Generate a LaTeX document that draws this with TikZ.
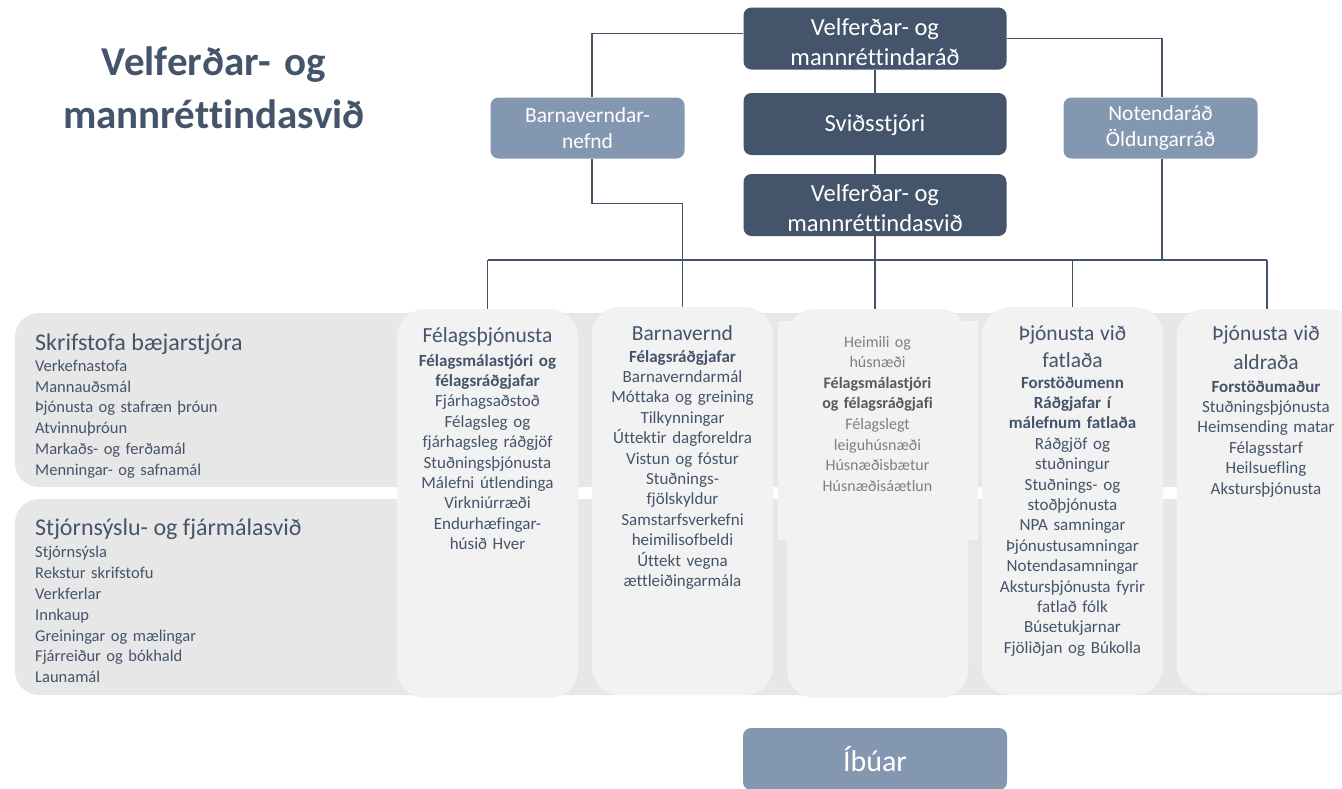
\documentclass[tikz,border=0pt]{standalone}
\usepackage{fontspec}
\setmainfont{Carlito}[Ligatures=CommonOff]
\definecolor{dk}{RGB}{68,84,106}
\definecolor{lt}{RGB}{132,151,176}
\definecolor{pan}{RGB}{231,231,231}
\definecolor{colbg}{RGB}{242,242,242}
\definecolor{gtx}{RGB}{127,127,127}
\definecolor{gbd}{RGB}{89,89,89}
\newcommand\colhd[3]{{\fontsize{21.5}{#2}\selectfont #1\par}\vspace{#3pt}}
\newcommand\panhd[2]{{\fontsize{24}{28}\selectfont #1\par}\vspace{#2pt}}
\tikzset{
  darkbox/.style={fill=dk, rounded corners=8, minimum width=263, minimum height=62, inner sep=0},
  litebox/.style={fill=lt, rounded corners=8, minimum width=194, minimum height=61, inner sep=0},
  dtext/.style={text=white, align=center, inner sep=0, font=\fontsize{24.5}{30}\selectfont},
  ltext/.style={text=white, align=center, inner sep=0, font=\fontsize{21.5}{26}\selectfont},
  colbox/.style={fill=colbg, rounded corners=28, minimum width=181, inner sep=0},
  coltext/.style={anchor=base, text width=180, align=center, text=dk, inner sep=0, font=\fontsize{17}{20.4}\selectfont},
  pantext/.style={anchor=base west, text width=340, align=left, text=dk, inner sep=0, font=\fontsize{16.5}{20.8}\selectfont},
  conn/.style={draw=dk, line width=1.2},
}
\begin{document}
\begin{tikzpicture}[x=1pt,y=-1pt]
\useasboundingbox (0,0) rectangle (1342,788);
% grey bands
\begin{scope}
\clip (0,0) rectangle (1342,788);
\fill[pan, rounded corners=24] (15,313) rectangle (1390,487);
\fill[pan, rounded corners=24] (15,499) rectangle (1390,695);
\end{scope}
\fill[colbg] (778,321) rectangle (978,540);
% columns
\node[colbox, minimum height=389] (c1) at (487.5,503.5) {};
\node[colbox, minimum height=388] (c2) at (682.5,501) {};
\node[colbox, minimum height=389] (c3) at (877.5,503.5) {};
\node[colbox, minimum height=388] (c4) at (1072.5,501) {};
\node[colbox, minimum height=384] (c5) at (1267,501) {};
% title
\node[anchor=base, text width=420, align=center, inner sep=0, text=dk, font=\bfseries\fontsize{41}{53}\selectfont] (title) at (214,75) {Velferðar- og\\mannréttindasvið};
% top boxes
\node[darkbox, label={[dtext, yshift=-3.5]center:{Velferðar- og\\mannréttindaráð}}] (vmr) at (875,38.5) {};
\node[darkbox, label={[dtext, yshift=-1.5]center:{Sviðsstjóri}}] (svd) at (875,124) {};
\node[darkbox, label={[dtext, yshift=-3]center:{Velferðar- og\\mannréttindasvið}}] (vms) at (875,205) {};
\node[litebox, label={[ltext]center:{Barnaverndar-\\nefnd}}] (bvn) at (587.5,128) {};
\node[litebox, label={[ltext]center:{Notendaráð\\Öldungarráð}}] (nod) at (1160.5,128) {};
\node[litebox, minimum width=264, minimum height=62, label={[ltext, font=\fontsize{30}{36}\selectfont]center:{Íbúar}}] (ibu) at (875,759) {};
% connectors
\coordinate (busL) at (487.5,260);
\coordinate (busR) at (1267,260);
\draw[conn] (vmr.west) ++(0,-5) -| ([xshift=4.5]bvn.north);
\draw[conn] (vmr.east) -| ([xshift=1.5]nod.north);
\draw[conn] (vmr.south) -- (svd.north);
\draw[conn] (svd.south) -- (vms.north);
\draw[conn] (vms.south) -- (vms.south |- c3.north);
\draw[conn] ([xshift=4.5]bvn.south) -- ++(0,45) -| (c2.north);
\draw[conn] ([xshift=1.5]nod.south) -- ([xshift=1.5]nod.south |- busL);
\draw[conn] (busL) -- (busR);
\draw[conn] (busL) -- (c1.north);
\draw[conn] (c4.north) -- (c4.north |- busL);
\draw[conn] (busR) -- (c5.north);
% panel texts
\node[pantext] (p1t) at (35,350) {\panhd{Skrifstofa bæjarstjóra}{0.5}Verkefnastofa\\Mannauðsmál\\Þjónusta og stafræn þróun\\Atvinnuþróun\\Markaðs- og ferðamál\\Menningar- og safnamál};
\node[pantext] (p2t) at (35,535) {\panhd{Stjórnsýslu- og fjármálasvið}{2}Stjórnsýsla\\Rekstur skrifstofu\\Verkferlar\\Innkaup\\Greiningar og mælingar\\Fjárreiður og bókhald\\Launamál};
% column texts
\node[coltext] (t1) at (487.5,342) {\colhd{Félagsþjónusta}{27}{3.6}{\bfseries Félagsmálastjóri og\\félagsráðgjafar}\\Fjárhagsaðstoð\\Félagsleg og\\fjárhagsleg ráðgjöf\\Stuðningsþjónusta\\Málefni útlendinga\\Virkniúrræði\\Endurhæfingar-\\húsið Hver};
\node[coltext] (t2) at (682.5,340) {\colhd{Barnavernd}{27}{1.6}{\bfseries Félagsráðgjafar}\\Barnaverndarmál\\Móttaka og greining\\Tilkynningar\\Úttektir dagforeldra\\Vistun og fóstur\\Stuðnings-\\fjölskyldur\\Samstarfsverkefni\\heimilisofbeldi\\Úttekt vegna\\ættleiðingarmála};
\node[coltext, text=gtx, font=\fontsize{16}{20.6}\selectfont] (t3) at (877.5,347) {Heimili og\\húsnæði\\{\bfseries\color{gbd}Félagsmálastjóri\\og félagsráðgjafi}\\Félagslegt\\leiguhúsnæði\\Húsnæðisbætur\\Húsnæðisáætlun};
\node[coltext] (t4) at (1072.5,340) {\colhd{Þjónusta við\\fatlaða}{27}{0.6}{\bfseries Forstöðumenn\\Ráðgjafar í\\málefnum fatlaða}\\Ráðgjöf og\\stuðningur\\Stuðnings- og\\stoðþjónusta\\NPA samningar\\Þjónustusamningar\\Notendasamningar\\Akstursþjónusta fyrir\\fatlað fólk\\Búsetukjarnar\\Fjöliðjan og Búkolla};
\node[coltext] (t5) at (1266,340) {\colhd{Þjónusta við\\aldraða}{29}{2.6}{\bfseries Forstöðumaður}\\Stuðningsþjónusta\\Heimsending matar\\Félagsstarf\\Heilsuefling\\Akstursþjónusta};
\end{tikzpicture}
\end{document}
